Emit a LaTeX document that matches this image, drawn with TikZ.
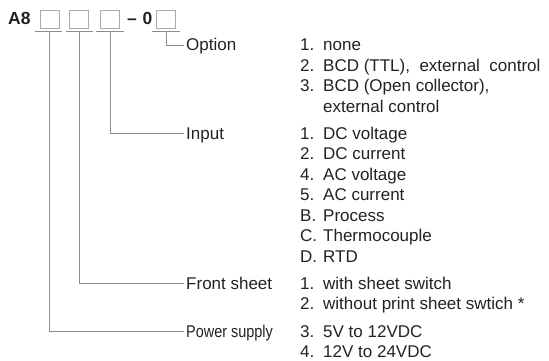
\documentclass[tikz,border=0pt]{standalone}
\usepackage{fontspec}
\setmainfont{Liberation Sans}
\definecolor{txt}{HTML}{222222}
\definecolor{lin}{HTML}{8C8C8C}
\definecolor{bx}{HTML}{ABABAB}
\begin{document}
\begin{tikzpicture}[x=1pt,y=-1pt,
  box/.style={draw=bx,line width=0.9pt,minimum width=19pt,minimum height=18pt,inner sep=0pt},
  uline/.style={draw=lin,line width=0.9pt},
  conn/.style={draw=lin,line width=0.9pt},
  lab/.style={anchor=base west,inner sep=0pt,text height=12pt,text depth=0pt,text=txt,font=\fontsize{17}{20}\selectfont},
  item/.style={anchor=base west,inner sep=0pt,text=txt,font=\fontsize{17}{20}\selectfont},
  head/.style={anchor=base west,inner sep=0pt,text=txt,font=\fontsize{17.5}{20}\selectfont\bfseries}]
\useasboundingbox (0,0) rectangle (549,361);
% header
\node[head] (a8) at (8,25) {A8};
\node[box] (b1) at (49.5,19) {};
\node[box] (b2) at (79,19) {};
\node[box] (b3) at (110,19) {};
\node[head] (dash) at (127,25) {–};
\node[head] (zero) at (142.5,25) {0};
\node[box] (b4) at (166,19) {};
% underlines
\coordinate (u1) at (49.5,31); \coordinate (u2) at (79,31);
\coordinate (u3) at (110,31); \coordinate (u4) at (166,31);
\draw[uline] (35,31) -- (62,31);
\draw[uline] (65.5,31) -- (93,31);
\draw[uline] (96,31) -- (124,31);
\draw[uline] (152,31) -- (180,31);
% labels
\node[lab] (lopt) at (186,51) {Option};
\node[lab] (linp) at (186,139) {Input};
\node[lab] (lfs) at (186,289) {Front sheet};
\node[lab] (lps) at (186,337) {\scalebox{0.85}[1]{Power supply}};
% connectors
\draw[conn] (u4) |- ([xshift=-2pt]lopt.west);
\draw[conn] (u3) |- ([xshift=-2pt]linp.west);
\draw[conn] (u2) |- ([xshift=-2pt]lfs.west);
\draw[conn] (u1) |- ([xshift=-2pt]lps.west);
% option list
\newcommand{\nm}[1]{\makebox[23pt][l]{#1}}
\node[item] (o1) at (300,51) {\nm{1.}none};
\node[item] (o2) at (300,71.5) {\nm{2.}BCD (TTL),\ \ external\ \ control};
\node[item] (o3) at (300,92) {\nm{3.}BCD (Open collector),};
\node[item] (o4) at (300,112.5) {\nm{}external control};
% input list
\node[item] (i1) at (300,139) {\nm{1.}DC voltage};
\node[item] (i2) at (300,159.5) {\nm{2.}DC current};
\node[item] (i3) at (300,180) {\nm{4.}AC voltage};
\node[item] (i4) at (300,200.5) {\nm{5.}AC current};
\node[item] (i5) at (300,221) {\nm{B.}Process};
\node[item] (i6) at (300,241.5) {\nm{C.}Thermocouple};
\node[item] (i7) at (300,262) {\nm{D.}RTD};
% front sheet list
\node[item] (f1) at (300,289) {\nm{1.}with sheet switch};
\node[item] (f2) at (300,309.5) {\nm{2.}without print sheet swtich *};
% power list
\node[item] (p1) at (300,337) {\nm{3.}5V to 12VDC};
\node[item] (p2) at (300,357) {\nm{4.}12V to 24VDC};
\end{tikzpicture}
\end{document}
